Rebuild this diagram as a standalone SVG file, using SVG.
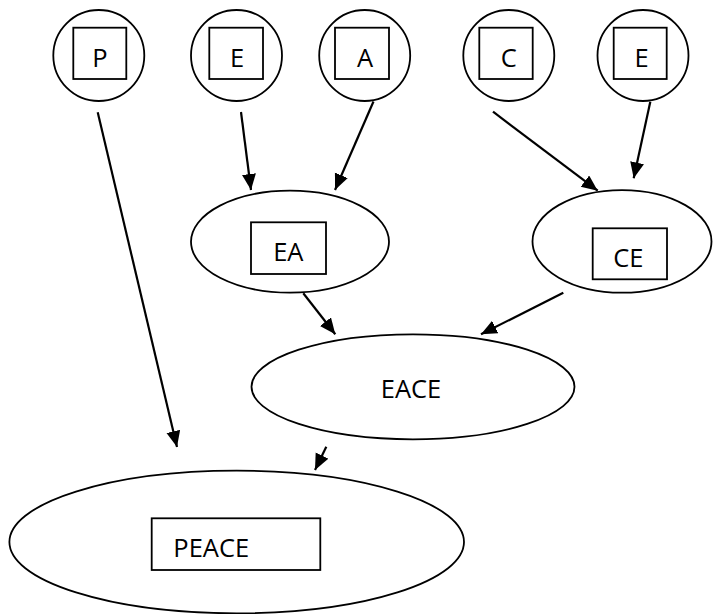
<svg xmlns="http://www.w3.org/2000/svg" width="717" height="614" viewBox="0 0 717 614">
<defs>
<style>
.n{fill:#fff;stroke:#000;stroke-width:1.8}
.b{fill:none;stroke:#000;stroke-width:1.8}
.t{font-family:"Open Sans","Liberation Sans",sans-serif;font-size:25.5px;fill:#000;text-anchor:middle}
.c{stroke:#000;stroke-width:2.2;fill:none;marker-end:url(#ah)}
</style>
<marker id="ah" markerUnits="userSpaceOnUse" markerWidth="17" markerHeight="15" refX="16" refY="7" orient="auto" viewBox="0 0 17 15">
<path d="M0,0 L16,7 L0,14 z" fill="#000"/>
</marker>
</defs>
<rect width="717" height="614" fill="#fff"/>
<g id="nodeP"><circle class="n" cx="98.8" cy="55.5" r="45.5"/><rect class="b" x="73.3" y="27.7" width="53" height="51.3"/><text class="t" x="100" y="66.5">P</text></g>
<g id="nodeE1"><circle class="n" cx="236.5" cy="55.5" r="45.5"/><rect class="b" x="209.3" y="27.7" width="53.7" height="51.3"/><text class="t" x="237" y="66.5">E</text></g>
<g id="nodeA"><circle class="n" cx="364.7" cy="55.5" r="45.5"/><rect class="b" x="335" y="27.7" width="54" height="51.3"/><text class="t" x="365" y="66.5">A</text></g>
<g id="nodeC"><circle class="n" cx="508.8" cy="55.5" r="45.5"/><rect class="b" x="479.3" y="27.7" width="53.4" height="51.3"/><text class="t" x="508.7" y="66.5">C</text></g>
<g id="nodeE2"><circle class="n" cx="643" cy="55.5" r="45.5"/><rect class="b" x="613.7" y="27.7" width="53" height="51.3"/><text class="t" x="641.7" y="66.5">E</text></g>
<g id="nodeEA"><ellipse class="n" cx="290" cy="241.7" rx="99" ry="51"/><rect class="b" x="251" y="222.3" width="75" height="51.7"/><text class="t" x="288.3" y="261">EA</text></g>
<g id="nodeCE"><ellipse class="n" cx="622" cy="241.4" rx="89.5" ry="51.3"/><rect class="b" x="592.7" y="228.3" width="74.3" height="51"/><text class="t" x="628.3" y="267.3">CE</text></g>
<g id="nodeEACE"><ellipse class="n" cx="413" cy="386.8" rx="161.5" ry="52.5"/><text class="t" x="411" y="398">EACE</text></g>
<g id="nodePEACE"><ellipse class="n" cx="236.7" cy="542" rx="227.3" ry="71.3"/><rect class="b" x="151.7" y="518.3" width="168.6" height="51.7"/><text class="t" x="173.3" y="557.3" style="text-anchor:start">PEACE</text></g>
<g id="connectors">
<line class="c" x1="97.7" y1="112.3" x2="177" y2="447"/>
<line class="c" x1="241" y1="112" x2="251" y2="190"/>
<line class="c" x1="373.5" y1="101.5" x2="335" y2="190"/>
<line class="c" x1="493" y1="111.7" x2="597.7" y2="190.7"/>
<line class="c" x1="650.3" y1="101.7" x2="633.7" y2="178.3"/>
<line class="c" x1="303.3" y1="293.3" x2="335.3" y2="334.3"/>
<line class="c" x1="563.3" y1="292.7" x2="481" y2="334.3"/>
<line class="c" x1="326.3" y1="446.7" x2="315" y2="470"/>
</g>
</svg>
